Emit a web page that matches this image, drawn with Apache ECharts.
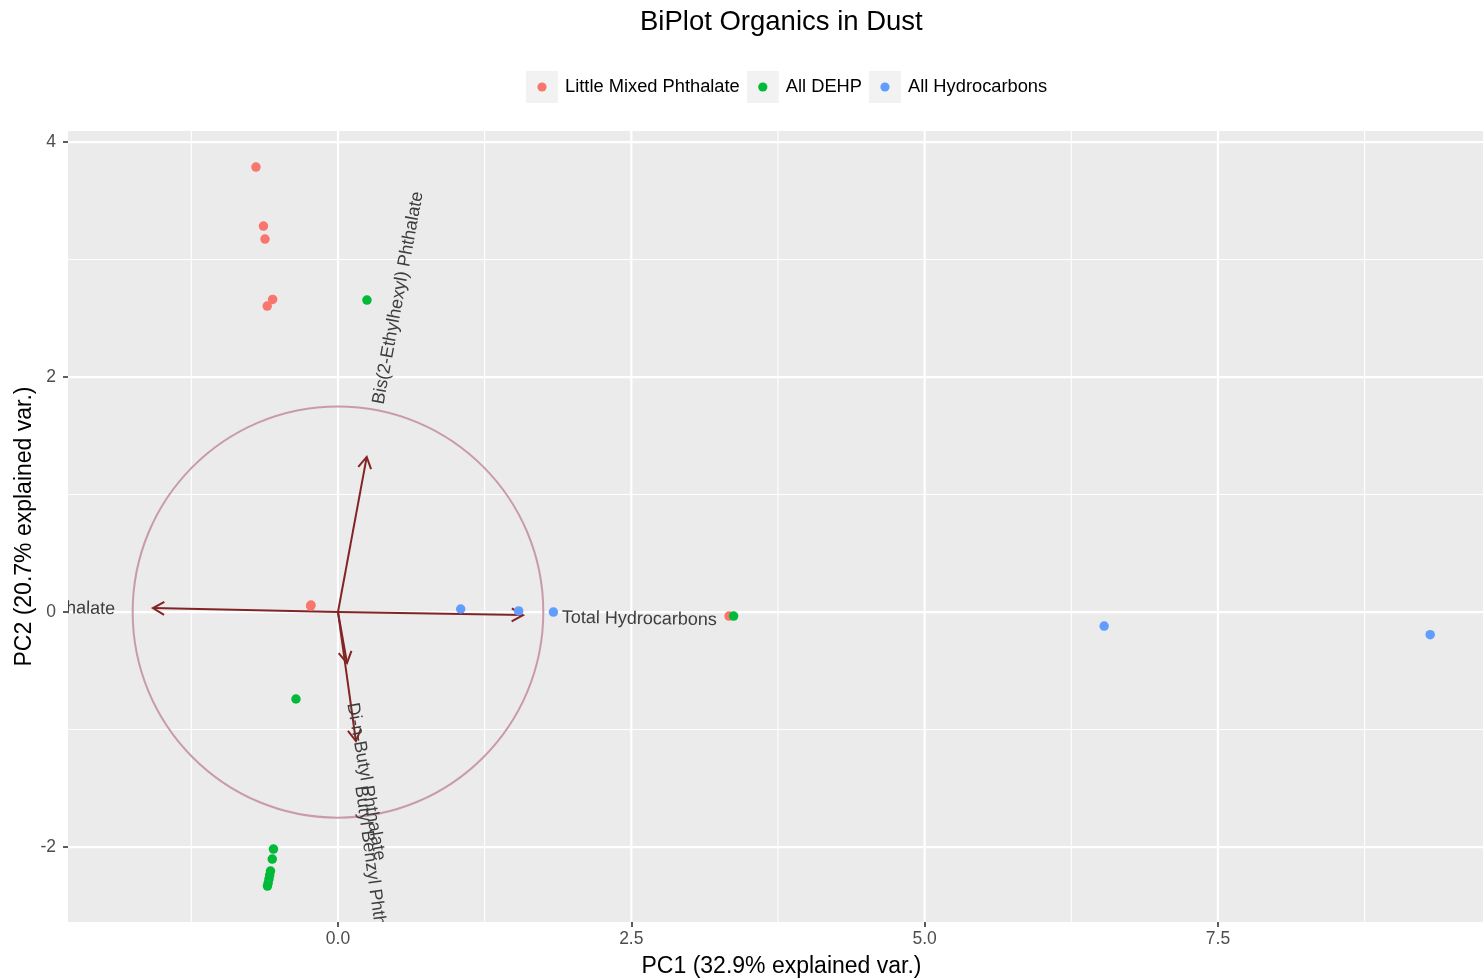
<!DOCTYPE html>
<html><head><meta charset="utf-8">
<script src="https://cdn.jsdelivr.net/npm/echarts@6/dist/echarts.min.js"></script>
<style>html,body{margin:0;padding:0;background:#fff}#chart{width:1483px;height:980px}</style>
</head><body><div id="chart"></div>
<script>
// ---------- data ----------
const groups = ['Little Mixed Phthalate', 'All DEHP', 'All Hydrocarbons'];
const groupColors = ['#F8766D', '#00BA38', '#619CFF'];
const littleMixedPhthalate = [[-0.699,3.787],[-0.635,3.285],[-0.622,3.174],[-0.557,2.661],[-0.603,2.604],[-0.230,0.060],[-0.233,0.052],[3.333,-0.034]];
const allDEHP = [[0.247,2.655],[-0.358,-0.740],[-0.550,-2.017],[-0.560,-2.102],[-0.575,-2.204],[-0.582,-2.238],[-0.588,-2.272],[-0.595,-2.306],[-0.601,-2.332],[3.372,-0.034]];
const allHydrocarbons = [[1.046,0.026],[1.540,0.009],[1.836,0.000],[6.530,-0.119],[9.309,-0.193]];
const varNames = ['Bis(2-Ethylhexyl) Phthalate','Dimethyl Phthalate','Total Hydrocarbons','Di-n-Butyl Phthalate','Butyl Benzyl Phthalate'];
const varX = [0.245, -1.577, 1.577, 0.077, 0.153];
const varY = [1.320, 0.034, -0.026, -0.434, -1.098];
const circleRadius = 1.75;
const xMajorTicks = [0, 2.5, 5, 7.5];
const xTickLabels = ['0.0', '2.5', '5.0', '7.5'];
const xMinorTicks = [-1.25, 1.25, 3.75, 6.25, 8.75];
const yMajorTicks = [-2, 0, 2, 4];
const yTickLabels = ['-2', '0', '2', '4'];
const yMinorTicks = [-1, 1, 3];
const xRange = [-2.301, 9.759];
const yRange = [-2.638, 4.094];
const titleText = 'BiPlot Organics in Dust';
const xTitle = 'PC1 (32.9% explained var.)';
const yTitle = 'PC2 (20.7% explained var.)';

// ---------- helpers ----------
const FONT = '"Liberation Sans", Arial, Helvetica, sans-serif';
const VAR_FS = 18;
const measureCtx = document.createElement('canvas').getContext('2d');
function textWidth(t, fs) { measureCtx.font = fs + 'px ' + FONT; return measureCtx.measureText(t).width; }
function legendIcon(color) {
  const svg = '<svg xmlns="http://www.w3.org/2000/svg" width="34" height="32"><rect width="32" height="32" fill="#f2f2f2"/><circle cx="16" cy="16" r="4.6" fill="' + color + '"/></svg>';
  return 'image://data:image/svg+xml;charset=utf-8,' + encodeURIComponent(svg);
}
const pointSets = [littleMixedPhthalate, allDEHP, allHydrocarbons];
const varData = varNames.map((n, i) => [varX[i], varY[i], n]);

function gridLineSeries(values, vertical, width) {
  return {
    type: 'custom', silent: true, z: 1, animation: false,
    data: values.map(v => vertical ? [v, 0] : [0, v]),
    renderItem: function (params, api) {
      const cs = params.coordSys;
      const p = api.coord([api.value(0), api.value(1)]);
      const shape = vertical
        ? { x1: p[0], y1: cs.y, x2: p[0], y2: cs.y + cs.height }
        : { x1: cs.x, y1: p[1], x2: cs.x + cs.width, y2: p[1] };
      return { type: 'line', shape: shape, style: { stroke: '#ffffff', lineWidth: width } };
    }
  };
}

const series = [
  gridLineSeries(xMinorTicks, true, 1.1),
  gridLineSeries(yMinorTicks, false, 1.1),
  gridLineSeries(xMajorTicks, true, 2.2),
  gridLineSeries(yMajorTicks, false, 2.2),
  {
    type: 'custom', silent: true, z: 2, animation: false, clip: true,
    data: [[0, 0, circleRadius]],
    renderItem: function (params, api) {
      const c = api.coord([api.value(0), api.value(1)]);
      const s = api.size([api.value(2), api.value(2)]);
      return { type: 'ellipse', shape: { cx: c[0], cy: c[1], rx: s[0], ry: s[1] },
        style: { fill: null, stroke: '#c99ba7', lineWidth: 2 } };
    }
  },
  {
    type: 'custom', silent: true, z: 3, animation: false, clip: true,
    data: varData,
    renderItem: function (params, api) {
      const o = api.coord([0, 0]);
      const t = api.coord([api.value(0), api.value(1)]);
      const a = Math.atan2(t[1] - o[1], t[0] - o[0]);
      const L = 13, h = Math.PI / 6;
      const p1 = [t[0] - L * Math.cos(a - h), t[1] - L * Math.sin(a - h)];
      const p2 = [t[0] - L * Math.cos(a + h), t[1] - L * Math.sin(a + h)];
      const st = { stroke: '#832424', lineWidth: 2, fill: null, lineJoin: 'miter' };
      return { type: 'group', children: [
        { type: 'line', shape: { x1: o[0], y1: o[1], x2: t[0], y2: t[1] }, style: st },
        { type: 'polyline', shape: { points: [p1, t, p2] }, style: st }
      ] };
    }
  }
];
pointSets.forEach((pts, i) => {
  series.push({
    name: groups[i], type: 'scatter', z: 4, animation: false,
    symbol: 'circle', symbolSize: 9.5,
    itemStyle: { color: groupColors[i], opacity: 1 },
    data: pts
  });
});
series.push({
  type: 'custom', silent: true, z: 5, animation: false, clip: true,
  data: varData,
  renderItem: function (params, api) {
    const x = api.value(0), y = api.value(1);
    const name = varNames[params.dataIndex];
    const t = api.coord([x, y]);
    const ang = Math.atan(y / x);
    const w = textWidth(name, VAR_FS);
    const right = x < 0;
    return { type: 'text', x: t[0], y: t[1], rotation: ang,
      style: { text: name, x: right ? -0.25 * w : 0.25 * w, y: 2,
        align: right ? 'right' : 'left', verticalAlign: 'middle',
        fontSize: VAR_FS, fontFamily: FONT, fill: '#3d3d3d' } };
  }
});

const chart = echarts.init(document.getElementById('chart'), null, { renderer: 'canvas' });
chart.setOption({
  animation: false,
  backgroundColor: '#ffffff',
  textStyle: { fontFamily: FONT },
  title: { text: titleText, left: 640, top: 8, padding: 0,
    textStyle: { fontSize: 27.5, fontWeight: 'normal', color: '#000', fontFamily: FONT } },
  legend: {
    left: 526, top: 71, padding: 0, itemWidth: 34, itemHeight: 32, itemGap: 7,
    selectedMode: false,
    textStyle: { fontSize: 18.3, color: '#000', fontFamily: FONT },
    data: groups.map((g, i) => ({ name: g, icon: legendIcon(groupColors[i]) }))
  },
  grid: { left: 68, right: 0, top: 131, bottom: 58, show: true, backgroundColor: '#ebebeb', borderWidth: 0,
    containLabel: false, outerBoundsMode: 'none' },
  xAxis: {
    type: 'value', min: xRange[0], max: xRange[1],
    splitLine: { show: false }, axisLine: { show: false, onZero: false },
    axisTick: { show: true, customValues: xMajorTicks, length: 5, lineStyle: { color: '#333', width: 1.6 } },
    axisLabel: { customValues: xMajorTicks, formatter: v => xTickLabels[xMajorTicks.indexOf(v)],
      color: '#4d4d4d', fontSize: 17.5, margin: 8, fontFamily: FONT },
    name: xTitle, nameLocation: 'middle', nameGap: 33, nameMoveOverlap: false,
    nameTextStyle: { fontSize: 23, color: '#000', fontFamily: FONT, padding: [0, 0, 0, 12] }
  },
  yAxis: {
    type: 'value', min: yRange[0], max: yRange[1],
    splitLine: { show: false }, axisLine: { show: false, onZero: false },
    axisTick: { show: true, customValues: yMajorTicks, length: 5, lineStyle: { color: '#333', width: 1.6 } },
    axisLabel: { customValues: yMajorTicks, formatter: v => yTickLabels[yMajorTicks.indexOf(v)],
      color: '#4d4d4d', fontSize: 17.5, margin: 12, fontFamily: FONT },
    name: yTitle, nameLocation: 'middle', nameGap: 32, nameMoveOverlap: false,
    nameTextStyle: { fontSize: 23, color: '#000', fontFamily: FONT }
  },
  series: series
});
</script></body></html>
